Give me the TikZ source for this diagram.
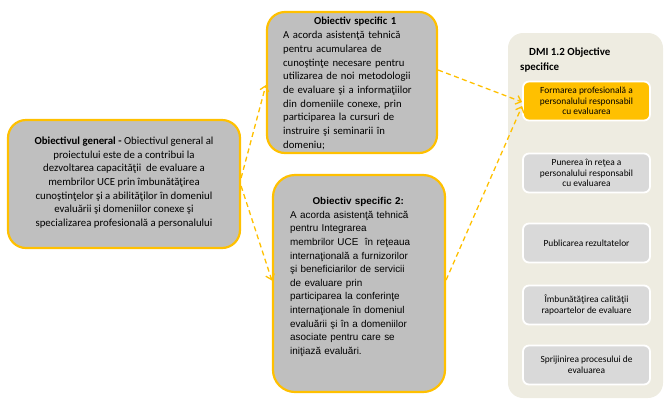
\documentclass[tikz,border=0pt]{standalone}
\usepackage{fontspec}
\setmainfont{Carlito}
\newfontfamily\arialf{Liberation Sans}
\usetikzlibrary{arrows.meta}
\definecolor{ora}{HTML}{FFC000}
\definecolor{gbox}{HTML}{BFBFBF}
\definecolor{beige}{HTML}{EEECE1}
\definecolor{lgray}{HTML}{D9D9D9}
\begin{document}
\begin{tikzpicture}[x=1pt,y=-1pt,
 bigbox/.style={draw=ora, line width=2.2pt, fill=gbox, rounded corners=18pt, inner sep=0pt},
 bigtext/.style={inner sep=0pt, align=left, anchor=west, font=\fontsize{10.7}{13.7}\selectfont},
 smallbox/.style={draw=white, line width=1.8pt, fill=lgray, rounded corners=6pt, minimum width=127pt, minimum height=39pt, inner sep=0pt, align=center, font=\fontsize{9.4}{10.5}\selectfont},
 conn/.style={draw=ora, line width=1.3pt, dash pattern=on 5pt off 3.5pt, -{Straight Barb[length=5pt,width=9pt]}}
]
\useasboundingbox (0,0) rectangle (664,400);
% left box
\node[bigbox, minimum width=232pt, minimum height=128pt] (lb) at (124,184) {};
\node[inner sep=0pt, align=center, font=\fontsize{10.8}{13.7}\selectfont] (lbt) at (124,182.5) {\textbf{Obiectivul general -} Obiectivul general al\\
proiectului este de a contribui la\\
dezvoltarea capacităţii\ \ de evaluare a\\
membrilor UCE prin îmbunătăţirea\\
cunoştinţelor şi a abilităţilor\ în domeniul\\
evaluării şi domeniilor conexe şi\\
specializarea profesională a personalului};
% specific objective 1
\node[bigbox, minimum width=170pt, minimum height=141pt] (os1) at (352,82.5) {};
\node[bigtext, text width=150pt] (os1t) at (283,83.5) {\makebox[144pt]{\textbf{Obiectiv specific\ 1}}\\
A acorda asistenţă\ tehnică\\
pentru acumularea de\\
cunoştinţe necesare pentru\\
utilizarea de noi metodologii\\
de evaluare şi a\ informaţiilor\\
din domeniile conexe, prin\\
participarea la cursuri de\\
instruire şi seminarii în\\
domeniu;};
% specific objective 2
\node[bigbox, minimum width=172pt, minimum height=217pt, rounded corners=22pt] (os2) at (359,283.5) {};
\node[bigtext, text width=148pt, font=\arialf\fontsize{9.9}{13.6}\selectfont] (os2t) at (290,277) {\makebox[136pt]{\textbf{Obiectiv specific\ 2:}}\\
A acorda asistenţă tehnică\\
pentru Integrarea\\
membrilor UCE\ \ în reţeaua\\
internaţională a furnizorilor\\
şi beneficiarilor de servicii\\
de evaluare prin\\
participarea la conferinţe\\
internaţionale în domeniul\\
evaluării şi în a domeniilor\\
asociate pentru care se\\
iniţiază evaluări.};
% right panel
\node[fill=beige, rounded corners=15pt, minimum width=155pt, minimum height=365pt, inner sep=0pt] (panel) at (585.5,215.5) {};
\node[inner sep=0pt, align=left, font=\bfseries\fontsize{10.9}{15}\selectfont, anchor=north west] (ptitle) at (520,48) {\hspace*{9pt}DMI 1.2 Objective\\specifice};
\node[smallbox, fill=ora] (b1) at (586.5,101) {Formarea profesională a\\personalului responsabil\\cu evaluarea};
\node[smallbox] (b2) at (586.5,173) {Punerea în reţea a\\personalului responsabil\\cu evaluarea};
\node[smallbox] (b3) at (586.5,243) {Publicarea rezultatelor};
\node[smallbox] (b4) at (586.5,305) {Îmbunătăţirea calităţii\\rapoartelor de evaluare};
\node[smallbox] (b5) at (586.5,365) {Sprijinirea procesului de\\evaluarea};
% connectors
\draw[conn] ([yshift=6pt]lb.east) -- ([yshift=-2.5pt]os1.west);
\draw[conn] ([yshift=-2pt]lb.east) -- ([yshift=3pt]os2.west);
\draw[conn] ([yshift=12.5pt]os1.east) -- ([yshift=-1pt]b1.west);
\draw[conn] ([yshift=3.5pt]os2.east) -- ([yshift=-5pt]b1.west);
\end{tikzpicture}
\end{document}
